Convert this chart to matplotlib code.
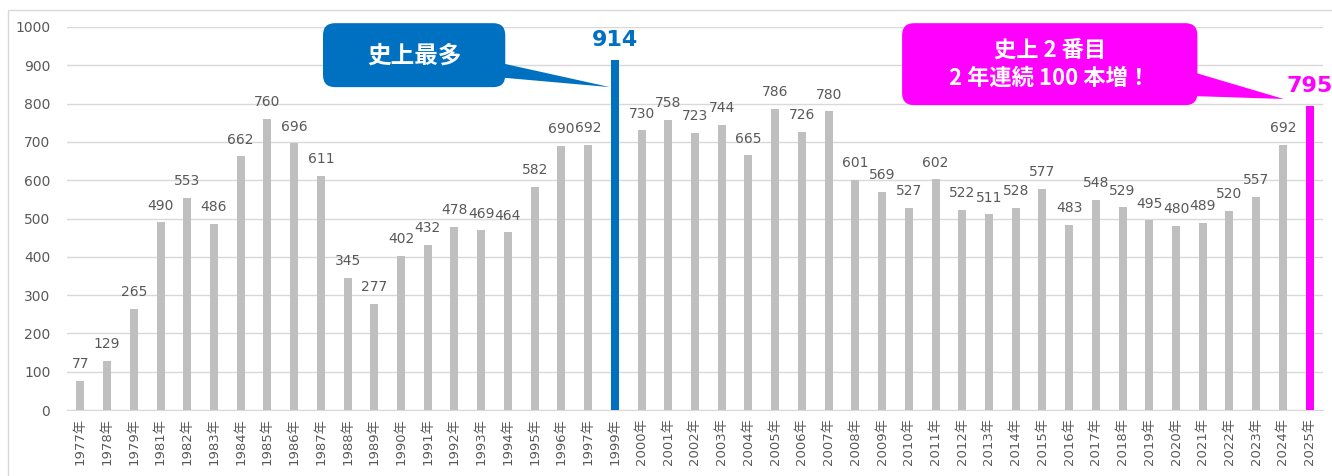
import matplotlib
matplotlib.use('Agg')
import matplotlib.pyplot as plt
from matplotlib.patches import FancyBboxPatch, Polygon, Rectangle

plt.rcParams['font.family'] = ['DejaVu Sans', 'Noto Sans CJK JP']

# data
years = [1977, 1978, 1979, 1981, 1982, 1983, 1984, 1985, 1986, 1987, 1988, 1989,
         1990, 1991, 1992, 1993, 1994, 1995, 1996, 1997, 1999, 2000, 2001, 2002,
         2003, 2004, 2005, 2006, 2007, 2008, 2009, 2010, 2011, 2012, 2013, 2014,
         2015, 2016, 2017, 2018, 2019, 2020, 2021, 2022, 2023, 2024, 2025]
counts = [77, 129, 265, 490, 553, 486, 662, 760, 696, 611, 345, 277,
          402, 432, 478, 469, 464, 582, 690, 692, 914, 730, 758, 723,
          744, 665, 786, 726, 780, 601, 569, 527, 602, 522, 511, 528,
          577, 483, 548, 529, 495, 480, 489, 520, 557, 692, 795]
labels = ['{}年'.format(y) for y in years]
max_year = 1999
last_year = 2025
callout_max = '史上最多'
callout_last = '史上 2 番目\n2 年連続 100 本増！'

gray = '#BFBFBF'
blue = '#0070C0'
pink = '#FF00FF'
txt = '#595959'

fig = plt.figure(figsize=(13.32, 4.76), dpi=100)
fig.add_artist(Rectangle((8 / 1332, -0.1), 1.2, 1 - 10 / 476 + 0.1,
                         transform=fig.transFigure, fill=False,
                         edgecolor='#D9D9D9', linewidth=1))
ax = fig.add_axes([67 / 1332, 1 - 410 / 476, 1256 / 1332, 383 / 476])

x = list(range(len(years)))
colors = []
for y in years:
    if y == max_year:
        colors.append(blue)
    elif y == last_year:
        colors.append(pink)
    else:
        colors.append(gray)
ax.bar(x, counts, width=0.3, color=colors, zorder=3)

for i, (y, v) in enumerate(zip(years, counts)):
    if y == max_year:
        ax.annotate(str(v), (i, v), xytext=(0, 7), textcoords='offset points',
                    ha='center', va='bottom', color=blue, fontsize=16,
                    fontweight='bold')
    elif y == last_year:
        ax.annotate(str(v), (i, v), xytext=(0, 7), textcoords='offset points',
                    ha='center', va='bottom', color=pink, fontsize=16,
                    fontweight='bold')
    else:
        ax.annotate(str(v), (i, v), xytext=(0, 7), textcoords='offset points',
                    ha='center', va='bottom', color=txt, fontsize=10)

ax.set_xlim(-0.5, len(years) - 0.5)
ax.set_ylim(0, 1000)
ax.set_yticks(range(0, 1001, 100))
ax.set_xticks(x)
ax.set_xticklabels(labels, rotation=90, fontsize=9.5, color=txt)
ax.tick_params(axis='y', labelsize=10, labelcolor=txt, length=0, pad=12)
ax.tick_params(axis='x', length=0, pad=6)
ax.grid(axis='y', color='#D9D9D9', linewidth=1, zorder=0)
for s in ['top', 'right', 'left']:
    ax.spines[s].set_visible(False)
ax.spines['bottom'].set_color('#D9D9D9')

# callouts (data units: 1 x unit = 26.7 px, 1 y unit = 0.383 px)
aspect = 26.72 / 0.383
i_max = years.index(max_year)
i_last = years.index(last_year)

def callout(x0, x1, y0, y1, base_top, base_bot, tip, color, text, size):
    box = FancyBboxPatch((x0, y0), x1 - x0, y1 - y0,
                         boxstyle='round,pad=0,rounding_size=0.45',
                         mutation_aspect=aspect, facecolor=color,
                         edgecolor='none', clip_on=False, zorder=5)
    ax.add_patch(box)
    tri = Polygon([(x1 - 0.3, base_top), (x1 - 0.3, base_bot), tip],
                  closed=True, facecolor=color, edgecolor='none',
                  clip_on=False, zorder=5)
    ax.add_patch(tri)
    ax.text((x0 + x1) / 2, (y0 + y1) / 2, text, ha='center', va='center',
            color='white', fontsize=size, fontweight='bold', zorder=6,
            linespacing=1.25, family=['Noto Sans CJK JP', 'DejaVu Sans'])

callout(9.08, 15.9, 843, 1010, 908, 869, (i_max - 0.18, 843), blue,
        callout_max, 17)
callout(30.75, 41.8, 796, 1010, 885, 820, (i_last - 0.97, 812), pink,
        callout_last, 16)

plt.savefig('out.png')
